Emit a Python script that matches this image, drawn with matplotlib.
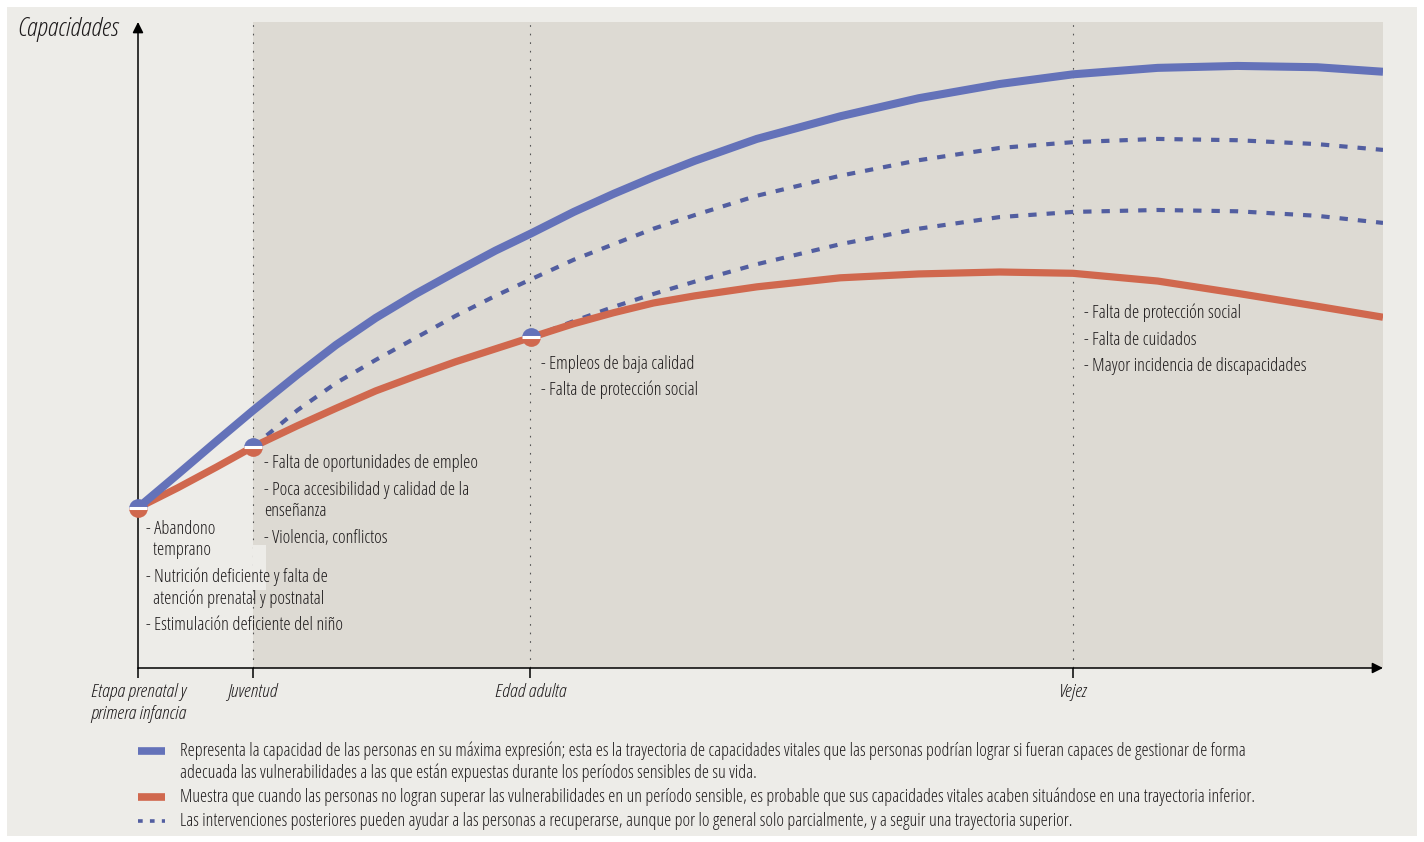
import matplotlib

matplotlib.use("Agg")
import matplotlib.pyplot as plt
from matplotlib.patches import Rectangle

# ---- data (x: life course 0-100, y: capacity index 0-100) ----
stage_x = [0, 9.2, 31.5, 75.1]
stage_labels = ["Etapa prenatal y\nprimera infancia", "Juventud", "Edad adulta", "Vejez"]

x_full = [0, 3.2, 6.3, 9.2, 12.8, 15.9, 19.1, 22.3, 25.5, 28.7, 31.6, 35.0,
          38.2, 41.4, 44.7, 49.7, 56.4, 62.7, 69.2, 75.1, 81.9, 88.3, 94.7, 100]
y_max = [24.8, 30.0, 35.1, 39.8, 45.4, 50.0, 54.2, 57.9, 61.3, 64.6, 67.3, 70.6,
         73.4, 76.0, 78.5, 81.9, 85.4, 88.2, 90.4, 91.9, 92.9, 93.2, 93.0, 92.3]
y_low = [24.8, 27.9, 31.1, 34.2, 37.5, 40.2, 42.9, 45.2, 47.4, 49.4, 51.2, 53.3,
         55.0, 56.5, 57.6, 59.0, 60.4, 61.0, 61.3, 61.1, 59.9, 58.0, 56.0, 54.3]

# recovery after youth
x_rec1 = [9.2, 12.8, 15.9, 19.1, 22.3, 25.5, 28.7, 31.6, 35.0, 38.2, 41.4, 44.7,
          49.7, 56.4, 62.7, 69.2, 75.1, 81.9, 88.3, 94.7, 100]
y_rec1 = [34.2, 39.9, 44.1, 47.7, 51.1, 54.5, 57.6, 60.2, 63.2, 65.6, 68.0, 70.1,
          73.1, 76.2, 78.6, 80.5, 81.4, 81.9, 81.7, 81.1, 80.2]

# recovery after adulthood
x_rec2 = [31.6, 35.0, 38.2, 41.4, 44.7, 49.7, 56.4, 62.7, 69.2, 75.1, 81.9, 88.3, 94.7, 100]
y_rec2 = [51.2, 53.7, 55.9, 57.9, 59.8, 62.5, 65.6, 68.0, 69.8, 70.6, 70.9, 70.7, 70.0, 68.9]

# sensitive periods where the trajectories split
split_x = [0, 9.2, 31.6]
split_y = [24.8, 34.2, 51.2]

notes = {
    0: ["- Abandono", "  temprano", "- Nutrición deficiente y falta de",
        "  atención prenatal y postnatal", "- Estimulación deficiente del niño"],
    1: ["- Falta de oportunidades de empleo", "- Poca accesibilidad y calidad de la",
        "enseñanza", "- Violencia, conflictos"],
    2: ["- Empleos de baja calidad", "- Falta de protección social"],
    3: ["- Falta de protección social", "- Falta de cuidados",
        "- Mayor incidencia de discapacidades"],
}

legend_lines = [
    "Representa la capacidad de las personas en su máxima expresión; esta es la trayectoria de "
    "capacidades vitales que las personas podrían lograr si fueran capaces de gestionar de forma",
    "adecuada las vulnerabilidades a las que están expuestas durante los períodos sensibles de su vida.",
    "Muestra que cuando las personas no logran superar las vulnerabilidades en un período sensible, "
    "es probable que sus capacidades vitales acaben situándose en una trayectoria inferior.",
    "Las intervenciones posteriores pueden ayudar a las personas a recuperarse, aunque por lo "
    "general solo parcialmente, y a seguir una trayectoria superior.",
]

BLUE = "#6472b9"
DASH = "#525ea0"
RED = "#d0684e"
PANEL = "#dddad3"
BG = "#edece8"
INK = "#1e1b1c"

FONT = dict(family=["Open Sans", "DejaVu Sans"], stretch="condensed", weight=300)

W, H = 1424, 842
fig = plt.figure(figsize=(W / 100, H / 100), dpi=100, facecolor="white")

# background canvas in pixel coordinates
bg = fig.add_axes([0, 0, 1, 1], zorder=0)
bg.set_xlim(0, W)
bg.set_ylim(H, 0)
bg.axis("off")
bg.add_patch(Rectangle((7, 7), 1410, 829, facecolor=BG, edgecolor="none"))

ax = fig.add_axes([138 / W, 1 - 668 / H, 1245 / W, 646 / H], zorder=1)
ax.set_facecolor("none")
ax.set_xlim(0, 100)
ax.set_ylim(0, 100)
for s in ax.spines.values():
    s.set_visible(False)

# shaded area from youth onwards
ax.axvspan(stage_x[1], 100, color=PANEL, zorder=0, lw=0)
for xs in stage_x[1:]:
    ax.plot([xs, xs], [0, 100], color="#555555", lw=0.8, dashes=(1.5, 6.2), zorder=1)
ax.add_patch(Rectangle((9.2, 12.1), 1.1, 6.9, facecolor=BG, edgecolor="none", zorder=1.5))

# axes with arrows
for tip in [(0, 1.0), (1.0, 0)]:
    ax.annotate("", xy=tip, xycoords="axes fraction", xytext=(0, 0),
                arrowprops=dict(arrowstyle="-|>", color="black", lw=1.1, mutation_scale=16,
                                shrinkA=0, shrinkB=0), annotation_clip=False)

ax.set_yticks([])
ax.set_xticks(stage_x)
ax.set_xticklabels(stage_labels, fontsize=14, style="italic", color=INK, **FONT)
ax.tick_params(axis="x", direction="out", length=7.5, width=1.1, pad=3, color="black")
for lab in ax.get_xticklabels():
    lab.set_linespacing(1.3)

ax.text(-0.0972, 0.988, "Capacidades", transform=ax.transAxes, fontsize=19,
        style="italic", color=INK, ha="left", va="center", **FONT)

# trajectories
ax.plot(x_rec1, y_rec1, color=DASH, lw=3.0, dashes=(2.0, 2.4), dash_capstyle="butt", zorder=2)
ax.plot(x_rec2, y_rec2, color=DASH, lw=3.0, dashes=(2.0, 2.4), dash_capstyle="butt", zorder=2)
ax.plot(x_full, y_low, color=RED, lw=5.2, solid_joinstyle="round", solid_capstyle="butt", zorder=3)
ax.plot(x_full, y_max, color=BLUE, lw=5.8, solid_joinstyle="round", solid_capstyle="butt", zorder=4)

# split markers: blue top half, red bottom half, white band
ax.plot(split_x, split_y, "o", ms=13.5, fillstyle="top", markerfacecolor=BLUE,
        markerfacecoloralt=RED, markeredgewidth=0, zorder=5, clip_on=False)
ax.plot(split_x, split_y, "_", ms=12.5, mew=2.2, color="white", zorder=6, clip_on=False)

# notes under each marker (line positions in reference pixels)
px = 6.46  # pixels per y unit
blocks = {
    0: (0.65, [529, 550, 577, 599, 625]),
    1: (10.1, [463, 490, 511, 538]),
    2: (32.4, [364, 390]),
    3: (76.0, [313, 340, 366]),
}
for k, (xt, ys) in blocks.items():
    for line, yp in zip(notes[k], ys):
        ax.text(xt, (668 - yp) / px, line, zorder=7, fontsize=13.2, color=INK,
                ha="left", va="center", **FONT)

# legend at the bottom, in pixel coordinates
bg.plot([138, 165], [751, 751], color=BLUE, lw=5.5, solid_capstyle="butt")
bg.plot([138, 165], [797, 797], color=RED, lw=5.5, solid_capstyle="butt")
bg.plot([138, 165], [821, 821], color=DASH, lw=2.6, dashes=(1.3, 2.0), dash_capstyle="butt")
for line, yp in zip(legend_lines, [751, 773, 797, 821]):
    bg.text(180, yp, line, fontsize=13.1, color=INK, va="center", **FONT)

fig.savefig("out.png", dpi=100, facecolor="white")
